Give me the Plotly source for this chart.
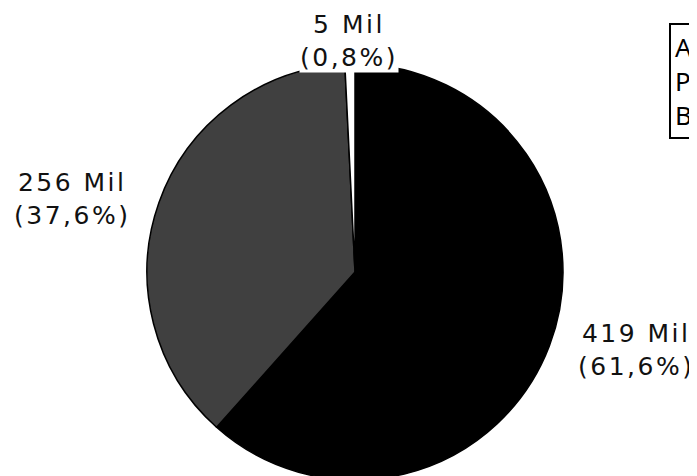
import math
import plotly.graph_objects as go

categories = ["Assinantes", "Pessoas", "Busca"]
values = [419.0, 256.0, 5.3]
value_labels = ["419 Mil", "256 Mil", "5 Mil"]
colors = ["#000000", "#404040", "#ffffff"]

W, H = 697, 476
OFF = 8  # page body margin of the html wrapper

# pie geometry (page pixels)
CX, CY, R = 355, 272, 208
cxf, cyf = CX - OFF, CY - OFF
dom_x = [(cxf - R) / W, (cxf + R) / W]
dom_y = [(H - cyf - R) / H, (H - cyf + R) / H]

fig = go.Figure()
fig.add_trace(go.Pie(
    labels=categories,
    values=values,
    sort=False,
    direction="clockwise",
    rotation=0,
    marker=dict(colors=colors, line=dict(color="#000000", width=1.5)),
    textinfo="none",
    domain=dict(x=dom_x, y=dom_y),
    showlegend=False,
    hoverinfo="label+value+percent",
))

total = sum(values)
cum = 0.0
for lab, v in zip(value_labels, values):
    frac = v / total
    mid = (cum + frac / 2) * 2 * math.pi
    cum += frac
    s, c = math.sin(mid), math.cos(mid)
    px = cxf + s * (R + 30)
    if s > 0.3:
        xa = "left"
    elif s < -0.3:
        xa = "right"
    else:
        xa = "center"
    if c > 0.9:
        ya, rr = "bottom", R - 9
    elif c < -0.9:
        ya, rr = "top", R - 9
    else:
        ya, rr = "middle", R + 12
    py = cyf - c * rr
    pct = f"{frac * 100:.1f}".replace(".", ",")
    txt = (f"<span style='letter-spacing:2.5px'>{lab}</span><br>"
           f"<span style='letter-spacing:2.5px'>({pct}%)</span>")
    fig.add_annotation(
        xref="paper", yref="paper",
        x=px / W, y=1 - py / H,
        xanchor=xa, yanchor=ya,
        text=txt, showarrow=False, align="center",
        bgcolor="#ffffff", borderpad=0,
        font=dict(family="DejaVu Sans", size=25, color="#111111"),
    )

fig.add_annotation(
    xref="paper", yref="paper",
    x=(669 - OFF) / W, y=1 - (23 - OFF) / H,
    xanchor="left", yanchor="top",
    text="<br>".join(categories),
    align="left",
    showarrow=False,
    bordercolor="#000000", borderwidth=2, borderpad=4,
    bgcolor="#ffffff",
    font=dict(family="Noto Sans", size=26, color="#000000"),
)

fig.update_layout(
    width=W, height=H,
    margin=dict(l=0, r=0, t=0, b=0, autoexpand=False),
    paper_bgcolor="#ffffff",
    plot_bgcolor="#ffffff",
    separators=",.",
)

fig.write_html("out.html")
